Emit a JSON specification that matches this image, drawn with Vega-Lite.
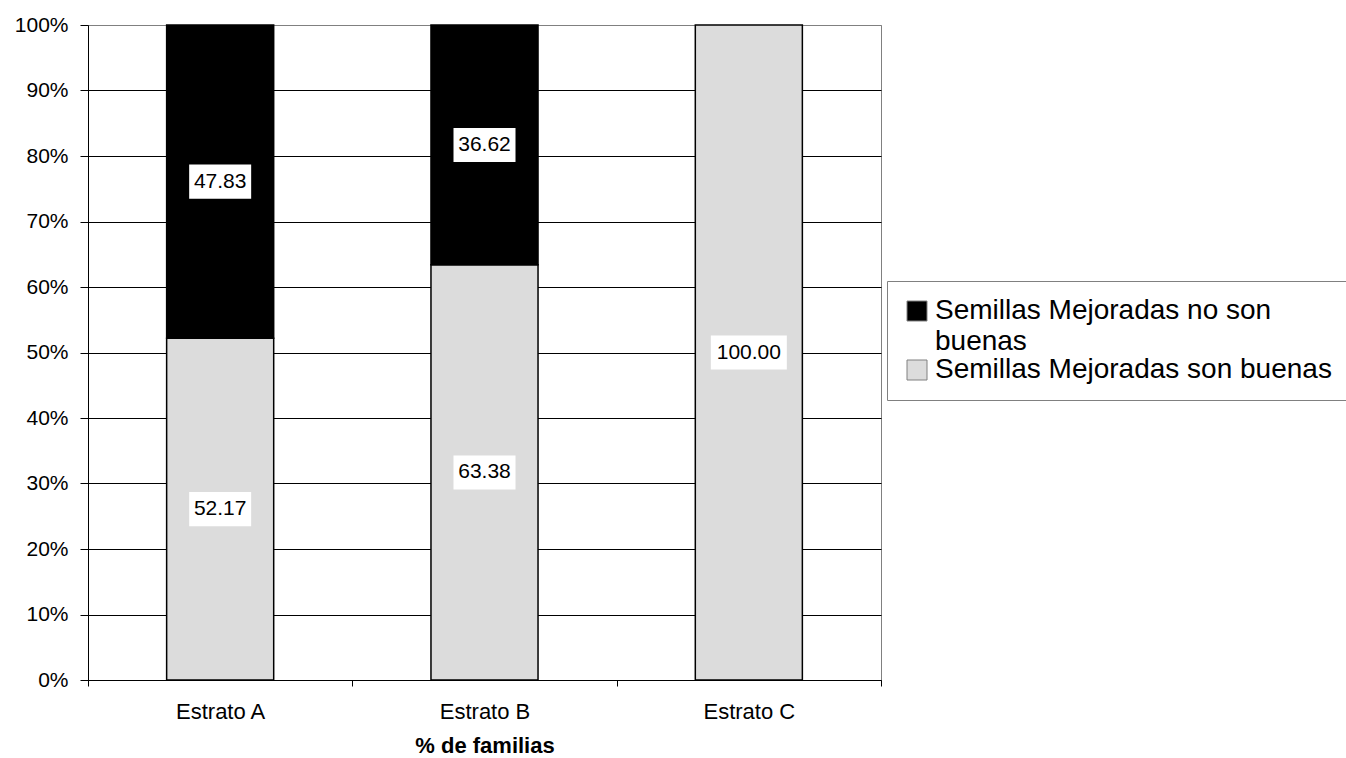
{
  "$schema": "https://vega.github.io/schema/vega-lite/v6.json",
  "width": 793,
  "height": 655,
  "autosize": "none",
  "padding": {"left": 88, "top": 25, "right": 465, "bottom": 78},
  "background": "white",
  "config": {
    "view": {"stroke": "#808080", "strokeWidth": 1},
    "font": "Liberation Sans"
  },
  "data": {
    "values": [
      {"estrato": "Estrato A", "serie": "Semillas Mejoradas son buenas", "valor": 52.17},
      {"estrato": "Estrato A", "serie": "Semillas Mejoradas no son buenas", "valor": 47.83},
      {"estrato": "Estrato B", "serie": "Semillas Mejoradas son buenas", "valor": 63.38},
      {"estrato": "Estrato B", "serie": "Semillas Mejoradas no son buenas", "valor": 36.62},
      {"estrato": "Estrato C", "serie": "Semillas Mejoradas son buenas", "valor": 100.0}
    ]
  },
  "transform": [
    {"stack": "valor", "groupby": ["estrato"], "sort": [{"field": "serie", "order": "descending"}], "as": ["v0", "v1"]},
    {"calculate": "(datum.v0 + datum.v1) / 2", "as": "mid"}
  ],
  "encoding": {
    "x": {
      "field": "estrato",
      "type": "nominal",
      "scale": {"paddingInner": 0, "paddingOuter": 0},
      "axis": {
        "title": "% de familias",
        "titleFontSize": 22,
        "titleFontWeight": "bold",
        "titleColor": "black",
        "titlePadding": 13,
        "labelFontSize": 22,
        "labelColor": "black",
        "labelAngle": 0,
        "labelPadding": 15,
        "tickBand": "extent",
        "tickSize": 6,
        "tickColor": "black",
        "domainColor": "black",
        "grid": false
      }
    }
  },
  "layer": [
    {
      "mark": {"type": "bar", "stroke": "black", "strokeWidth": 1.5, "width": {"band": 0.405}},
      "encoding": {
        "y": {
          "field": "v0",
          "type": "quantitative",
          "title": null,
          "scale": {"domain": [0, 100], "nice": false},
          "axis": {
            "values": [0, 10, 20, 30, 40, 50, 60, 70, 80, 90, 100],
            "labelExpr": "datum.value + '%'",
            "labelFontSize": 21,
            "labelColor": "black",
            "labelPadding": 12,
            "tickSize": 8,
            "tickColor": "black",
            "domainColor": "black",
            "grid": true,
            "gridColor": {"condition": {"test": "datum.value == 100", "value": "#808080"}, "value": "black"},
            "gridOpacity": 1,
            "gridWidth": 1
          }
        },
        "y2": {"field": "v1"},
        "color": {
          "field": "serie",
          "type": "nominal",
          "scale": {
            "domain": ["Semillas Mejoradas no son buenas", "Semillas Mejoradas son buenas"],
            "range": ["#000000", "#dcdcdc"]
          },
          "legend": {
            "orient": "none",
            "legendX": 799,
            "legendY": 256,
            "title": null,
            "labelFontSize": 28,
            "labelColor": "black",
            "labelLimit": 0,
            "labelOffset": 4,
            "symbolType": "square",
            "symbolSize": 400,
            "symbolStrokeColor": "#808080",
            "symbolStrokeWidth": 1,
            "symbolOpacity": 1,
            "strokeColor": "#808080",
            "fillColor": "white",
            "padding": 16,
            "rowPadding": 0,
            "labelExpr": "datum.label == 'Semillas Mejoradas no son buenas' ? ['Semillas Mejoradas no son', 'buenas'] : datum.label",
            "encode": {
              "labels": {"update": {"lineHeight": {"value": 31}}}
            }
          }
        }
      }
    },
    {
      "mark": {"type": "point", "filled": true, "fill": "white", "opacity": 1, "size": 3844, "strokeWidth": 0},
      "encoding": {
        "y": {"field": "mid", "type": "quantitative", "title": null},
        "shape": {
          "condition": {"test": "datum.valor >= 100", "value": "M-1.226,-0.55L1.226,-0.55L1.226,0.55L-1.226,0.55Z"},
          "value": "M-1,-0.55L1,-0.55L1,0.55L-1,0.55Z"
        }
      }
    },
    {
      "mark": {"type": "text", "fontSize": 21, "color": "black"},
      "encoding": {
        "y": {"field": "mid", "type": "quantitative", "title": null},
        "text": {"field": "valor", "type": "quantitative", "format": ".2f"}
      }
    }
  ]
}
